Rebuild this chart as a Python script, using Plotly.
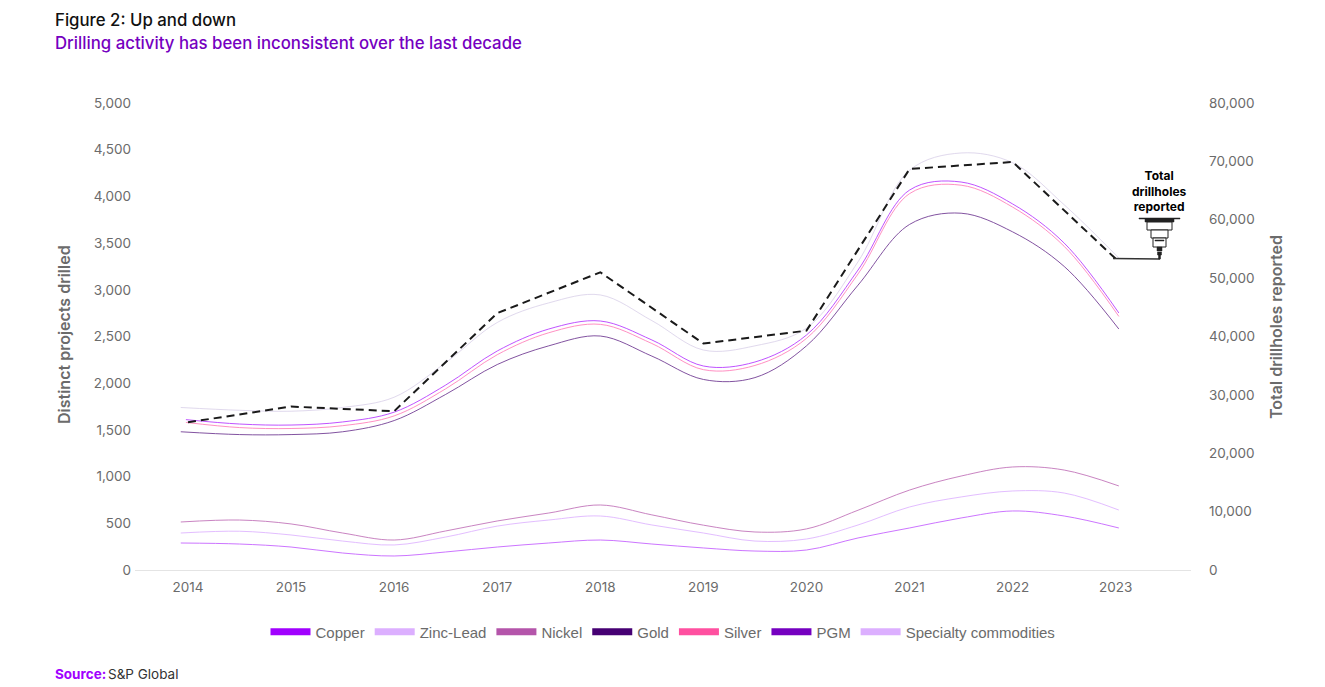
import plotly.graph_objects as go

W, H = 1325, 687
L, R, T, B = 135, 1191, 103, 570

TICK_YEARS = list(range(2014, 2024))
X_MAIN = [2013.93, 2014.5, 2015, 2015.5, 2016, 2016.5, 2017, 2017.5, 2018, 2018.5, 2019, 2019.5,
          2020, 2020.5, 2021, 2021.5, 2022, 2022.5, 2023.03]
X_PINK = [2013.98] + X_MAIN[1:]

copper = [1610, 1563, 1552, 1585, 1690, 1980, 2345, 2580, 2666, 2463, 2184, 2227, 2516, 3212, 4068, 4154, 3919, 3500, 2752]
silver = [1580, 1525, 1515, 1545, 1650, 1940, 2305, 2540, 2630, 2425, 2145, 2190, 2480, 3170, 4030, 4120, 3885, 3465, 2715]
gold = [1480, 1450, 1450, 1480, 1600, 1880, 2200, 2400, 2505, 2290, 2040, 2060, 2400, 3050, 3700, 3820, 3620, 3250, 2580]
specialty = [1740, 1710, 1700, 1740, 1850, 2220, 2650, 2860, 2945, 2670, 2355, 2400, 2590, 3300, 4280, 4465, 4360, 3910, 3340]
nickel = [514, 535, 493, 396, 321, 418, 525, 610, 696, 590, 480, 407, 440, 640, 856, 1006, 1103, 1070, 900]
zinc_lead = [396, 415, 375, 310, 268, 353, 470, 535, 578, 482, 396, 310, 332, 482, 675, 782, 846, 824, 642]
pgm = [289, 278, 246, 182, 150, 193, 246, 289, 321, 278, 236, 203, 214, 343, 450, 557, 632, 578, 450]
drillholes = [25300, 28000, 27200, 44000, 51000, 38800, 41000, 68700, 69900, 53300]

FONT = "Inter"
GREY = "#6b6b6b"

series = [
    ("Copper", copper, "#a100ff", X_PINK, 0.9, 0.75),
    ("Zinc-Lead", zinc_lead, "#dcafff", X_MAIN, 0.9, 0.9),
    ("Nickel", nickel, "#b455aa", X_MAIN, 0.9, 0.8),
    ("Gold", gold, "#460073", X_MAIN, 0.9, 0.75),
    ("Silver", silver, "#ff50a0", X_PINK, 0.9, 0.7),
    ("PGM", pgm, "#a100ff", X_MAIN, 0.9, 0.6),
    ("Specialty commodities", specialty, "#c8bce0", X_MAIN, 0.7, 0.8),
]
LEGEND_COLORS = ["#a100ff", "#dcafff", "#b455aa", "#460073", "#ff50a0", "#7500c0", "#dcafff"]

fig = go.Figure()
for name, vals, color, xs, w, op in series:
    fig.add_trace(go.Scatter(x=xs, y=vals, mode="lines", name=name, showlegend=False, opacity=op,
                             line=dict(color=color, width=w, shape="spline", smoothing=1.0), hoverinfo="skip"))
for (name, vals, color, xs, w, op), lc in zip(series, LEGEND_COLORS):
    fig.add_trace(go.Scatter(x=[None], y=[None], mode="lines", name=name, showlegend=True,
                             line=dict(color=lc, width=7)))
fig.add_trace(go.Scatter(x=TICK_YEARS, y=drillholes, mode="lines", yaxis="y2", showlegend=False,
                         name="Total drillholes reported",
                         line=dict(color="#1a1a1a", width=2, dash="8px 5px")))


def px(x):
    return (x - L) / (R - L)


def py(y):
    return (B - y) / (B - T)


def rect(x0, y0, x1, y1, fill="white", line="#222222", lw=1):
    return dict(type="rect", xref="paper", yref="paper", x0=px(x0), x1=px(x1), y0=py(y0), y1=py(y1),
                fillcolor=fill, line=dict(color=line, width=lw))


shapes = [
    # leader line and drill-bit glyph
    dict(type="line", xref="paper", yref="paper", x0=px(1113), x1=px(1160), y0=py(258.5), y1=py(259),
         line=dict(color="#333333", width=1.5)),
    rect(1139, 218, 1180, 219, fill="#222222", lw=0.5),
    rect(1145, 219, 1174, 222, fill="#222222", lw=0.5),
    rect(1147, 222, 1172, 230),
    rect(1151, 230, 1168, 238),
    rect(1153, 238, 1166, 247),
    rect(1155, 240, 1164, 241, fill="#222222", lw=0.5),
    rect(1157, 247, 1162, 251, fill="#222222", lw=0.5),
    rect(1157.5, 252, 1161.5, 255, fill="#222222", lw=0.5),
    rect(1158.5, 255, 1160.5, 259, fill="#222222", lw=0.5),
]


def note(x, y, text, size, color, weight=400, xanchor="left", yanchor="middle", angle=0, family=FONT, align="left"):
    return dict(x=px(x), y=py(y), xref="paper", yref="paper", text=text, showarrow=False, xanchor=xanchor,
                yanchor=yanchor, textangle=angle, align=align, xshift=0,
                font=dict(family=family, size=size, color=color, weight=weight))


annotations = [
    note(53, 20, "Figure 2: Up and down", 16.8, "#111111", 500),
    note(53, 43, "Drilling activity has been inconsistent over the last decade", 16.8, "#7500c0", 500),
    note(53, 674, "<b>Source:</b>", 13.5, "#a100ff"),
    note(106, 674, "S&amp;P Global", 13.5, "#333333"),
    note(64, 335, "Distinct projects drilled", 16, GREY, 600, xanchor="center", angle=-90),
    note(1276, 327, "Total drillholes reported", 16, GREY, 600, xanchor="center", angle=-90),
    note(1159, 191, "Total<br>drillholes<br>reported", 12, "#000000", 700, xanchor="center", align="center"),
]

fig.update_layout(
    width=W, height=H, autosize=False,
    margin=dict(l=L, r=W - R, t=T, b=H - B),
    paper_bgcolor="white", plot_bgcolor="white",
    font=dict(family=FONT, size=13, color=GREY),
    xaxis=dict(range=[2013.486, 2023.73], tickvals=TICK_YEARS, ticktext=[str(y) for y in TICK_YEARS],
               showgrid=False, zeroline=False, showline=True, linecolor="#e4e4e4", linewidth=1, ticks="",
               ticklabelstandoff=5, tickfont=dict(size=13.5, color=GREY)),
    yaxis=dict(range=[0, 5000], tickvals=list(range(0, 5001, 500)), tickformat=",", showgrid=False,
               zeroline=False, showline=False, ticks="", ticklabelstandoff=3, tickfont=dict(size=13.5, color=GREY)),
    yaxis2=dict(range=[0, 80000], overlaying="y", side="right", tickvals=list(range(0, 80001, 10000)),
                tickformat=",", showgrid=False, zeroline=False, showline=False, ticks="", ticklabelstandoff=17,
                tickfont=dict(size=13.5, color=GREY)),
    legend=dict(orientation="h", x=0.5, xanchor="center", y=py(632), yanchor="middle",
                itemwidth=40, tracegroupgap=0, font=dict(family="Liberation Sans", size=15, color=GREY),
                bgcolor="rgba(0,0,0,0)"),
    shapes=shapes, annotations=annotations,
)

fig.write_html("out.html", config=dict(displayModeBar=False),
               post_script="document.body.style.margin='0';document.body.style.overflow='hidden';")
